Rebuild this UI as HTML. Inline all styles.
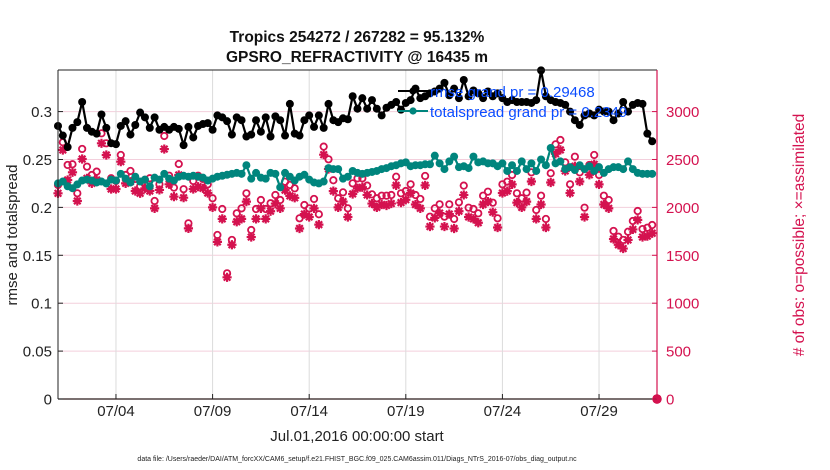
<!DOCTYPE html>
<html><head><meta charset="utf-8"><style>
html,body{margin:0;padding:0;background:#fff;}
svg{display:block;font-family:"Liberation Sans",Arial,sans-serif;}
</style></head><body>
<svg id="chart" width="830" height="470" viewBox="0 0 830 470">
<g id="grid"></g><g id="marks"></g><g id="axes"></g>
</svg>
<script>
const dateTickDays=[3,8,13,18,23,28];
const dateTickLabels=["07/04","07/09","07/14","07/19","07/24","07/29"];
const leftTicks=[0,0.05,0.1,0.15,0.2,0.25,0.3];
const leftTickLabels=["0","0.05","0.1","0.15","0.2","0.25","0.3"];
const rightTicks=[0,500,1000,1500,2000,2500,3000];
const rmse=[0.285,0.275,0.263,0.283,0.289,0.310,0.283,0.279,0.277,0.297,0.283,0.267,0.266,0.285,0.290,0.276,0.286,0.299,0.294,0.283,0.294,0.281,0.284,0.281,0.284,0.282,0.265,0.284,0.273,0.285,0.287,
0.288,0.281,0.296,0.294,0.290,0.276,0.294,0.291,0.274,0.276,0.291,0.279,0.294,0.274,0.295,0.291,0.275,0.308,0.277,0.275,0.291,0.296,0.284,0.296,0.283,0.308,0.291,0.289,0.293,0.292,0.316,0.303,
0.314,0.303,0.312,0.303,0.296,0.304,0.307,0.310,0.302,0.309,0.312,0.324,0.314,0.316,0.319,0.321,0.324,0.330,0.317,0.324,0.314,0.333,0.316,0.322,0.319,0.314,0.321,0.316,0.319,0.314,0.310,
0.312,0.310,0.310,0.310,0.309,0.312,0.343,0.316,0.312,0.310,0.309,0.307,0.300,0.291,0.286,0.296,0.298,0.296,0.302,0.300,0.300,0.291,0.298,0.310,0.300,0.307,0.309,0.308,0.277,0.269];
const spread=[0.225,0.227,0.222,0.220,0.224,0.228,0.229,0.228,0.226,0.227,0.225,0.229,0.228,0.235,0.230,0.226,0.232,0.227,0.229,0.222,0.231,0.229,0.235,0.230,0.228,0.232,0.233,0.232,0.233,0.232,0.231,
0.228,0.230,0.232,0.233,0.234,0.235,0.236,0.235,0.244,0.230,0.236,0.231,0.230,0.236,0.235,0.221,0.236,0.232,0.228,0.232,0.234,0.229,0.226,0.225,0.227,0.241,0.240,0.240,0.230,0.232,0.238,0.236,
0.235,0.236,0.237,0.238,0.240,0.241,0.243,0.244,0.246,0.247,0.243,0.244,0.244,0.245,0.245,0.254,0.246,0.240,0.248,0.253,0.242,0.243,0.241,0.253,0.247,0.248,0.246,0.246,0.243,0.246,0.238,
0.244,0.238,0.248,0.240,0.246,0.238,0.250,0.244,0.262,0.246,0.248,0.240,0.242,0.239,0.244,0.240,0.243,0.238,0.242,0.236,0.240,0.242,0.242,0.240,0.248,0.240,0.236,0.235,0.235,0.235];
const possible=[2234,2680,2443,2450,2147,2610,2425,2338,2373,2773,2669,2304,2276,2547,2338,2380,2297,2220,2287,2304,2067,2241,2745,2331,2206,2453,2190,1834,2276,2331,2297,
2241,2095,1712,1983,1312,1660,1938,1990,2147,1764,1983,2077,1983,2043,2129,2077,2268,2234,2199,1886,2025,1990,2088,1928,2634,2502,2283,2095,2157,1990,2251,2303,
2303,2227,2136,2095,2122,2122,2129,2320,2147,2171,2241,2129,2088,2328,1903,1990,2032,1903,2032,1879,2053,2227,1997,1983,1938,2122,2164,2049,1886,2241,2268,
2338,2147,2095,2154,2366,1973,2122,1879,2356,2658,2703,2470,2241,2529,2366,1997,2443,2547,2338,2122,2077,1754,1694,1660,1746,1858,1962,1774,1788,1816,0];
const assimilated=[2147,2599,2286,2366,2067,2505,2303,2251,2286,2669,2547,2192,2192,2477,2251,2268,2171,2147,2199,2171,1990,2182,2609,2241,2112,2338,2101,1781,2192,2216,2199,
2150,2000,1640,1880,1270,1610,1850,1880,2060,1690,1880,1990,1880,1960,2040,1990,2180,2120,2100,1780,1930,1900,1990,1820,2550,2400,2170,2000,2060,1900,2140,2200,
2210,2130,2040,2000,2030,2020,2040,2230,2050,2080,2150,2030,1990,2230,1800,1890,1940,1800,1930,1780,1960,2130,1900,1880,1840,2030,2060,1950,1790,2150,2170,
2240,2050,2000,2060,2270,1880,2030,1790,2260,2560,2600,2380,2150,2430,2270,1900,2340,2450,2240,2030,1990,1670,1610,1570,1660,1770,1870,1690,1700,1730,0];

const L=58,R=657,T=70,B=399,DAYS=31,YMAX=0.3434,RMAX=3434;
const xs=d=>L+(R-L)*d/DAYS;
const yl=v=>B-(B-T)*v/YMAX;
const yr=v=>B-(B-T)*v/RMAX;
const dayOf=i=>i*0.25;
const NS="http://www.w3.org/2000/svg";
function mk(tag,attrs,parent,text){const e=document.createElementNS(NS,tag);for(const k in attrs)e.setAttribute(k,attrs[k]);if(text!==undefined)e.textContent=text;parent.appendChild(e);return e;}
const grid=document.getElementById('grid'),marks=document.getElementById('marks'),axes=document.getElementById('axes');
const MAG="#d4124f";

rightTicks.forEach(v=>{const e=mk('line',{x1:L,x2:R,y1:yr(v),y2:yr(v),stroke:"#f3cfdc","stroke-width":1},grid);

});
dateTickDays.forEach(d=>{const e=mk('line',{x1:xs(d),x2:xs(d),y1:T,y2:B,stroke:"#dcdcdc","stroke-width":1},grid);

});

function star(cx,cy,parent){const s=4.6,d=3.3;
 const p=mk('path',{d:`M${cx-s},${cy}H${cx+s}M${cx},${cy-s}V${cy+s}M${cx-d},${cy-d}L${cx+d},${cy+d}M${cx-d},${cy+d}L${cx+d},${cy-d}`,stroke:MAG,"stroke-width":2.2,fill:"none"},parent);return p;}
const gA=mk('g',{},marks);
assimilated.forEach((v,i)=>{const e=star(xs(dayOf(i)),yr(v),gA);

});
const gP=mk('g',{},marks);
possible.forEach((v,i)=>{const last=i===possible.length-1;const e=mk('circle',{cx:xs(dayOf(i)),cy:yr(v),r:last?3.8:3.2,fill:last?MAG:"none",stroke:MAG,"stroke-width":1.8},gP);

});

function series(arr,color,name){const g=mk('g',{},marks);
 mk('polyline',{points:arr.map((v,i)=>xs(dayOf(i))+","+yl(v)).join(" "),fill:"none",stroke:color,"stroke-width":2.2},g);
 arr.forEach((v,i)=>{const e=mk('circle',{cx:xs(dayOf(i)),cy:yl(v),r:4,fill:color},g);
 
 });}
series(spread,"#00857d","totalspread");
series(rmse,"#000000","rmse");

mk('line',{x1:L,x2:R,y1:T,y2:T,stroke:"#222","stroke-width":1},axes);
mk('line',{x1:L,x2:L,y1:T,y2:B,stroke:"#222","stroke-width":1},axes);
mk('line',{x1:L,x2:R,y1:B,y2:B,stroke:"#2b1a1a","stroke-width":1.2},axes);
mk('line',{x1:R,x2:R,y1:T,y2:B,stroke:MAG,"stroke-width":1.2},axes);
leftTicks.forEach((v,i)=>{mk('line',{x1:L,x2:L+5,y1:yl(v),y2:yl(v),stroke:"#222"},axes);
 const t=mk('text',{x:L-6,y:yl(v)+5.5,"text-anchor":"end","font-size":15,fill:"#222"},axes,leftTickLabels[i]);
 
 });
rightTicks.forEach(v=>{mk('line',{x1:R-5,x2:R,y1:yr(v),y2:yr(v),stroke:MAG},axes);
 const t=mk('text',{x:R+9,y:yr(v)+5.5,"font-size":15,fill:MAG},axes,String(v));
 
 });
dateTickDays.forEach((d,i)=>{mk('line',{x1:xs(d),x2:xs(d),y1:B-5,y2:B,stroke:"#222"},axes);
 const t=mk('text',{x:xs(d),y:416,"text-anchor":"middle","font-size":15,fill:"#222"},axes,dateTickLabels[i]);
 
 });
</script>
<svg width="830" height="470" style="position:absolute;left:0;top:0;font-family:'Liberation Sans',Arial,sans-serif">
<text x="357" y="42" text-anchor="middle" font-size="15.5" font-weight="bold" fill="#111">Tropics 254272 / 267282 = 95.132%</text>
<text x="357" y="62" text-anchor="middle" font-size="15.5" font-weight="bold" fill="#111">GPSRO_REFRACTIVITY @ 16435 m</text>
<g>
<line x1="398" x2="428" y1="91" y2="91" stroke="#000" stroke-width="2"/><circle cx="413" cy="91" r="3.6" fill="#000"/>
<text x="430" y="97" font-size="15" fill="#0a4cff">rmse grand pr = 0.29468</text>
<line x1="398" x2="428" y1="111" y2="111" stroke="#00857d" stroke-width="2"/><circle cx="413" cy="111" r="3.6" fill="#00857d"/>
<text x="430" y="117" font-size="15" fill="#0a4cff">totalspread grand pr = 0.2349</text>
</g>
<text transform="translate(17,235) rotate(-90)" text-anchor="middle" font-size="15" fill="#222">rmse and totalspread</text>
<text transform="translate(804,235) rotate(-90)" text-anchor="middle" font-size="15.5" fill="#d4124f"># of obs: o=possible; ×=assimilated</text>
<text x="357" y="441" text-anchor="middle" font-size="15" fill="#222">Jul.01,2016 00:00:00 start</text>
<text x="357" y="461" text-anchor="middle" font-size="7" fill="#222">data file: /Users/raeder/DAI/ATM_forcXX/CAM6_setup/f.e21.FHIST_BGC.f09_025.CAM6assim.011/Diags_NTrS_2016-07/obs_diag_output.nc</text>
</svg>
</body></html>
